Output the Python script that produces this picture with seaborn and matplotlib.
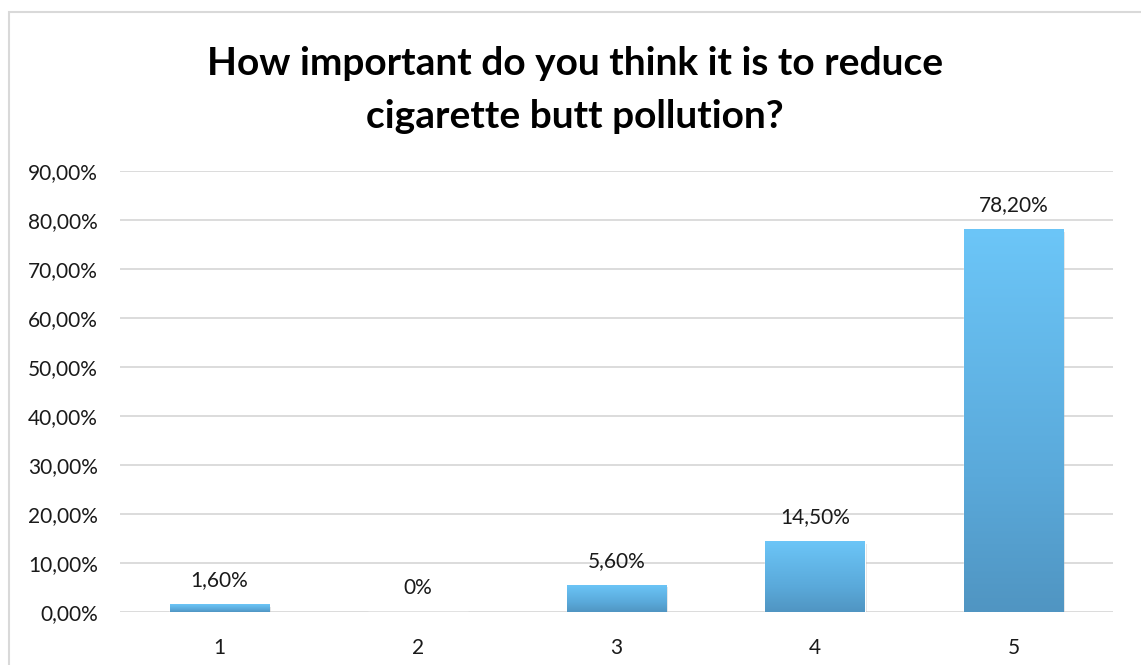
import numpy as np
import pandas as pd
import matplotlib
matplotlib.use("Agg")
import matplotlib.pyplot as plt
from matplotlib.patches import Rectangle
from matplotlib.colors import LinearSegmentedColormap
import matplotlib.patheffects as pe
import seaborn as sns

# Survey answers (importance scale 1-5) and share of respondents
ratings = ["1", "2", "3", "4", "5"]
shares = [0.016, 0.0, 0.056, 0.145, 0.782]
share_labels = ["1,60%", "0%", "5,60%", "14,50%", "78,20%"]
y_ticks = [0.0, 0.1, 0.2, 0.3, 0.4, 0.5, 0.6, 0.7, 0.8, 0.9]
y_tick_labels = ["0,00%", "10,00%", "20,00%", "30,00%", "40,00%",
                 "50,00%", "60,00%", "70,00%", "80,00%", "90,00%"]
title = "How important do you think it is to reduce\ncigarette butt pollution?"

df = pd.DataFrame({"rating": ratings, "share": shares})

sns.set_theme(style="white")
plt.rcParams["font.family"] = ["Lato", "DejaVu Sans"]

W, H = 1141, 665
fig = plt.figure(figsize=(W / 100, H / 100), dpi=100)
fig.patch.set_facecolor("white")

# light frame around the chart area
fig.patches.append(Rectangle((9 / W, -0.05), 1.2, (H - 12) / H + 0.05,
                             transform=fig.transFigure, fill=False,
                             edgecolor="#D9D9D9", linewidth=1.5, zorder=0))

ax = fig.add_axes([120 / W, 53 / H, (1113 - 120) / W, (612 - 171) / H])
ax.set_facecolor("white")

sns.barplot(data=df, x="rating", y="share", ax=ax, color="#6CC6F8",
            width=0.5, saturation=1, zorder=3)

ax.set_ylim(0, 0.9)
ax.set_yticks(y_ticks)
ax.set_yticklabels(y_tick_labels)
ax.set_xticks(range(len(ratings)))
ax.set_xticklabels(ratings)
ax.set_xlabel("")
ax.set_ylabel("")
ax.grid(axis="y", color="#D9D9D9", linewidth=1.3, zorder=0)
ax.grid(axis="x", visible=False)
for s in ax.spines.values():
    s.set_visible(False)
ax.tick_params(axis="y", length=0, pad=16, labelsize=15, labelcolor="#1a1a1a")
ax.tick_params(axis="x", length=0, pad=19, labelsize=15, labelcolor="#1a1a1a")

# vertical light-to-dark fill for each bar
grad_cmap = LinearSegmentedColormap.from_list(
    "barfill", [(0.0, "#5095C2"), (0.35, "#5AA9DA"), (1.0, "#6CC6F8")])
grad = np.linspace(0, 1, 256).reshape(-1, 1)
for patch in ax.patches:
    x0, y0 = patch.get_x(), patch.get_y()
    w, h = patch.get_width(), patch.get_height()
    if h <= 0:
        continue
    patch.set_path_effects([pe.SimplePatchShadow(offset=(1.5, -2), alpha=0.18,
                                                 shadow_rgbFace="#606060"),
                            pe.Normal()])
    im = ax.imshow(grad, cmap=grad_cmap, aspect="auto", origin="lower",
                   extent=(x0, x0 + w, y0, y0 + h), zorder=4,
                   interpolation="bilinear")
    im.set_clip_path(patch)
ax.set_xlim(-0.5, len(ratings) - 0.5)
ax.set_ylim(0, 0.9)

# value labels above bars
for i, (v, lab) in enumerate(zip(shares, share_labels)):
    ax.annotate(lab, (i, v), xytext=(0, 10), textcoords="offset points",
                ha="center", va="bottom", fontsize=15, color="#1a1a1a")

fig.text(0.504, (H - 90) / H, title, ha="center", va="center",
         fontsize=28, fontweight="bold", color="black", linespacing=1.6)

fig.savefig("out.png", dpi=100, facecolor="white")
